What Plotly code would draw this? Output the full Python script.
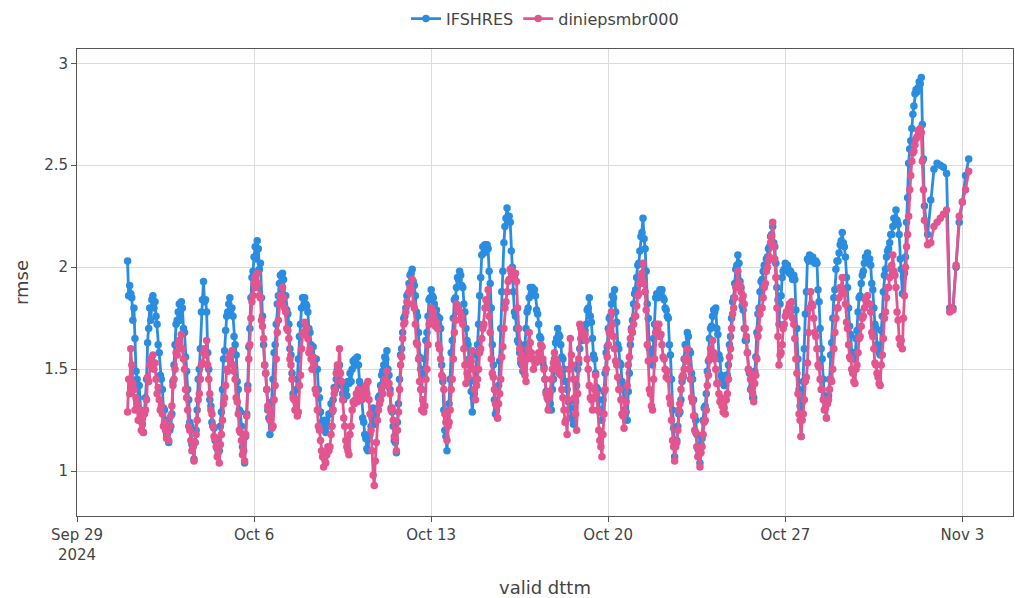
import pandas as pd
import plotly.graph_objects as go

# Hourly rmse, one row per day starting 2024-10-01 00 UTC (last row ends Nov 1 12 UTC)
first_day = pd.Timestamp("2024-10-01")

ifshres_hourly = [
    [2.03, 1.86, 1.91, 1.87, 1.85, 1.74, 1.80, 1.65, 1.49, 1.45, 1.36, 1.42, 1.30, 1.25, 1.26, 1.19, 1.29, 1.36, 1.45, 1.63, 1.70, 1.80, 1.74, 1.84],
    [1.86, 1.80, 1.83, 1.76, 1.72, 1.62, 1.58, 1.47, 1.45, 1.40, 1.31, 1.30, 1.25, 1.18, 1.21, 1.14, 1.20, 1.22, 1.28, 1.44, 1.52, 1.62, 1.72, 1.74],
    [1.78, 1.82, 1.74, 1.83, 1.80, 1.70, 1.68, 1.56, 1.49, 1.40, 1.35, 1.24, 1.22, 1.13, 1.12, 1.06, 1.14, 1.20, 1.30, 1.45, 1.50, 1.60, 1.78, 1.84],
    [1.93, 1.83, 1.84, 1.78, 1.58, 1.50, 1.35, 1.32, 1.24, 1.22, 1.21, 1.15, 1.16, 1.11, 1.15, 1.10, 1.22, 1.29, 1.40, 1.55, 1.59, 1.69, 1.76, 1.78],
    [1.82, 1.85, 1.77, 1.80, 1.76, 1.66, 1.62, 1.57, 1.44, 1.40, 1.30, 1.29, 1.22, 1.12, 1.10, 1.04, 1.17, 1.28, 1.42, 1.61, 1.70, 1.85, 1.95, 1.98],
    [2.05, 2.10, 2.04, 2.13, 2.09, 1.99, 2.02, 1.85, 1.76, 1.62, 1.52, 1.48, 1.40, 1.30, 1.26, 1.18, 1.29, 1.34, 1.45, 1.58, 1.62, 1.72, 1.82, 1.86],
    [1.92, 1.96, 1.89, 1.97, 1.94, 1.86, 1.86, 1.79, 1.77, 1.72, 1.60, 1.57, 1.48, 1.38, 1.36, 1.30, 1.40, 1.45, 1.55, 1.66, 1.72, 1.80, 1.85, 1.81],
    [1.85, 1.82, 1.81, 1.78, 1.70, 1.68, 1.62, 1.56, 1.61, 1.55, 1.50, 1.55, 1.50, 1.40, 1.36, 1.29, 1.24, 1.23, 1.21, 1.25, 1.19, 1.25, 1.22, 1.28],
    [1.28, 1.33, 1.29, 1.35, 1.41, 1.40, 1.45, 1.50, 1.51, 1.52, 1.43, 1.42, 1.38, 1.35, 1.43, 1.40, 1.37, 1.44, 1.43, 1.48, 1.44, 1.50, 1.54, 1.53],
    [1.55, 1.52, 1.56, 1.52, 1.44, 1.42, 1.35, 1.26, 1.24, 1.18, 1.16, 1.11, 1.10, 1.16, 1.18, 1.22, 1.26, 1.31, 1.28, 1.23, 1.28, 1.30, 1.36, 1.37],
    [1.42, 1.47, 1.49, 1.52, 1.56, 1.55, 1.59, 1.50, 1.47, 1.40, 1.31, 1.29, 1.22, 1.15, 1.14, 1.09, 1.24, 1.33, 1.45, 1.57, 1.60, 1.68, 1.75, 1.76],
    [1.80, 1.86, 1.87, 1.92, 1.96, 1.97, 1.99, 1.93, 1.91, 1.86, 1.78, 1.76, 1.68, 1.56, 1.50, 1.40, 1.47, 1.49, 1.55, 1.64, 1.68, 1.76, 1.84, 1.85],
    [1.89, 1.86, 1.85, 1.82, 1.78, 1.79, 1.76, 1.72, 1.75, 1.70, 1.52, 1.44, 1.30, 1.20, 1.17, 1.10, 1.24, 1.33, 1.45, 1.58, 1.64, 1.75, 1.84, 1.85],
    [1.90, 1.95, 1.94, 1.98, 1.96, 1.91, 1.90, 1.82, 1.78, 1.70, 1.64, 1.62, 1.55, 1.44, 1.39, 1.29, 1.36, 1.38, 1.45, 1.57, 1.62, 1.72, 1.86, 1.95],
    [2.06, 2.10, 2.07, 2.11, 2.09, 2.11, 2.09, 1.98, 1.92, 1.80, 1.62, 1.52, 1.35, 1.28, 1.30, 1.26, 1.42, 1.54, 1.70, 1.88, 1.98, 2.12, 2.20, 2.24],
    [2.29, 2.25, 2.25, 2.22, 2.08, 2.00, 1.88, 1.78, 1.76, 1.70, 1.64, 1.63, 1.58, 1.53, 1.52, 1.49, 1.58, 1.62, 1.70, 1.78, 1.80, 1.85, 1.90, 1.87],
    [1.90, 1.87, 1.89, 1.86, 1.79, 1.77, 1.72, 1.66, 1.65, 1.61, 1.53, 1.51, 1.45, 1.39, 1.39, 1.35, 1.31, 1.33, 1.30, 1.40, 1.45, 1.55, 1.63, 1.65],
    [1.70, 1.67, 1.66, 1.62, 1.56, 1.55, 1.50, 1.44, 1.44, 1.40, 1.34, 1.34, 1.31, 1.26, 1.26, 1.23, 1.31, 1.34, 1.42, 1.50, 1.53, 1.60, 1.65, 1.64],
    [1.68, 1.71, 1.69, 1.72, 1.79, 1.80, 1.85, 1.76, 1.73, 1.65, 1.57, 1.55, 1.48, 1.41, 1.40, 1.35, 1.29, 1.30, 1.25, 1.35, 1.39, 1.48, 1.58, 1.61],
    [1.70, 1.75, 1.76, 1.82, 1.86, 1.85, 1.89, 1.78, 1.73, 1.62, 1.60, 1.53, 1.52, 1.44, 1.41, 1.35, 1.30, 1.29, 1.25, 1.39, 1.48, 1.62, 1.70, 1.74],
    [1.82, 1.87, 1.89, 1.95, 2.01, 2.02, 2.08, 2.15, 2.17, 2.24, 2.14, 2.09, 1.98, 1.82, 1.75, 1.60, 1.58, 1.53, 1.52, 1.65, 1.72, 1.85, 1.87, 1.85],
    [1.87, 1.89, 1.87, 1.89, 1.85, 1.84, 1.80, 1.79, 1.76, 1.75, 1.62, 1.57, 1.45, 1.30, 1.21, 1.07, 1.14, 1.15, 1.22, 1.28, 1.29, 1.35, 1.44, 1.46],
    [1.55, 1.62, 1.62, 1.68, 1.66, 1.59, 1.58, 1.48, 1.45, 1.35, 1.27, 1.25, 1.18, 1.11, 1.10, 1.04, 1.13, 1.16, 1.25, 1.31, 1.32, 1.38, 1.49, 1.54],
    [1.65, 1.70, 1.71, 1.76, 1.79, 1.78, 1.80, 1.70, 1.67, 1.57, 1.55, 1.47, 1.45, 1.46, 1.42, 1.42, 1.47, 1.47, 1.52, 1.62, 1.66, 1.75, 1.83, 1.85],
    [1.92, 1.99, 2.01, 2.06, 2.02, 1.93, 1.90, 1.81, 1.79, 1.70, 1.64, 1.64, 1.58, 1.50, 1.48, 1.40, 1.41, 1.36, 1.36, 1.49, 1.56, 1.68, 1.77, 1.80],
    [1.88, 1.93, 1.94, 1.98, 2.01, 2.01, 2.04, 2.05, 2.09, 2.10, 2.15, 2.16, 2.20, 2.12, 2.10, 2.02, 1.90, 1.84, 1.72, 1.82, 1.86, 1.95, 1.98, 1.99],
    [2.02, 2.00, 2.01, 1.99, 1.97, 1.98, 1.96, 1.94, 1.96, 1.94, 1.79, 1.70, 1.55, 1.40, 1.32, 1.17, 1.34, 1.44, 1.60, 1.77, 1.88, 2.04, 2.03, 2.06],
    [2.05, 2.03, 2.05, 2.03, 2.02, 2.03, 2.02, 1.89, 1.83, 1.70, 1.60, 1.55, 1.45, 1.37, 1.34, 1.26, 1.34, 1.37, 1.45, 1.57, 1.63, 1.75, 1.85, 1.89],
    [1.99, 2.03, 2.03, 2.07, 2.11, 2.13, 2.17, 2.12, 2.10, 2.05, 1.95, 1.90, 1.80, 1.71, 1.67, 1.58, 1.58, 1.55, 1.55, 1.65, 1.69, 1.78, 1.85, 1.86],
    [1.92, 1.96, 1.98, 2.02, 2.05, 2.05, 2.07, 2.04, 2.04, 2.01, 1.92, 1.89, 1.80, 1.72, 1.70, 1.62, 1.61, 1.58, 1.57, 1.69, 1.76, 1.88, 1.96, 1.99],
    [2.05, 2.08, 2.09, 2.12, 2.16, 2.16, 2.20, 2.24, 2.24, 2.28, 2.23, 2.21, 2.16, 2.04, 1.99, 1.87, 1.95, 1.97, 2.05, 2.22, 2.34, 2.51, 2.58, 2.62],
    [2.68, 2.75, 2.79, 2.85, 2.87, 2.86, 2.88, 2.91, 2.90, 2.93, 2.70, 2.53, 2.30],
]

diniepsmbr000_hourly = [
    [1.29, 1.45, 1.38, 1.60, 1.52, 1.43, 1.40, 1.30, 1.36, 1.33, 1.25, 1.30, 1.25, 1.20, 1.23, 1.19, 1.28, 1.30, 1.35, 1.46, 1.44, 1.52, 1.55, 1.54],
    [1.57, 1.50, 1.53, 1.45, 1.38, 1.41, 1.35, 1.30, 1.32, 1.28, 1.22, 1.24, 1.20, 1.16, 1.19, 1.15, 1.22, 1.27, 1.32, 1.42, 1.45, 1.50, 1.58, 1.57],
    [1.62, 1.64, 1.60, 1.67, 1.60, 1.55, 1.50, 1.40, 1.36, 1.30, 1.22, 1.20, 1.15, 1.10, 1.12, 1.05, 1.14, 1.18, 1.25, 1.35, 1.38, 1.45, 1.52, 1.53],
    [1.58, 1.60, 1.57, 1.64, 1.52, 1.45, 1.38, 1.30, 1.28, 1.22, 1.17, 1.16, 1.12, 1.07, 1.09, 1.04, 1.13, 1.18, 1.25, 1.33, 1.36, 1.42, 1.50, 1.49],
    [1.55, 1.57, 1.53, 1.59, 1.52, 1.49, 1.45, 1.36, 1.34, 1.28, 1.20, 1.19, 1.15, 1.08, 1.10, 1.05, 1.18, 1.27, 1.40, 1.55, 1.62, 1.75, 1.83, 1.86],
    [1.92, 1.95, 1.90, 1.97, 1.92, 1.86, 1.85, 1.74, 1.71, 1.65, 1.52, 1.48, 1.40, 1.32, 1.30, 1.25, 1.27, 1.21, 1.22, 1.35, 1.42, 1.55, 1.68, 1.74],
    [1.82, 1.86, 1.84, 1.90, 1.85, 1.80, 1.78, 1.70, 1.69, 1.65, 1.55, 1.52, 1.45, 1.36, 1.35, 1.30, 1.33, 1.27, 1.29, 1.42, 1.47, 1.60, 1.67, 1.68],
    [1.73, 1.69, 1.70, 1.65, 1.58, 1.60, 1.55, 1.50, 1.56, 1.52, 1.40, 1.38, 1.30, 1.22, 1.20, 1.15, 1.10, 1.07, 1.02, 1.06, 1.04, 1.08, 1.12, 1.10],
    [1.12, 1.18, 1.22, 1.30, 1.38, 1.40, 1.48, 1.52, 1.50, 1.60, 1.48, 1.44, 1.35, 1.26, 1.22, 1.15, 1.12, 1.10, 1.08, 1.18, 1.22, 1.30, 1.34, 1.33],
    [1.35, 1.38, 1.34, 1.40, 1.36, 1.38, 1.35, 1.39, 1.36, 1.40, 1.42, 1.38, 1.44, 1.35, 1.28, 1.20, 1.10, 0.98, 0.93, 1.05, 1.14, 1.25, 1.30, 1.33],
    [1.35, 1.40, 1.38, 1.42, 1.45, 1.44, 1.49, 1.42, 1.43, 1.38, 1.30, 1.31, 1.25, 1.17, 1.16, 1.10, 1.20, 1.29, 1.40, 1.52, 1.56, 1.65, 1.72, 1.73],
    [1.78, 1.83, 1.82, 1.88, 1.90, 1.89, 1.94, 1.82, 1.80, 1.72, 1.63, 1.62, 1.55, 1.44, 1.40, 1.30, 1.35, 1.29, 1.32, 1.45, 1.50, 1.62, 1.72, 1.74],
    [1.80, 1.77, 1.78, 1.75, 1.71, 1.73, 1.70, 1.62, 1.60, 1.55, 1.47, 1.46, 1.40, 1.28, 1.24, 1.15, 1.22, 1.24, 1.30, 1.40, 1.45, 1.55, 1.68, 1.74],
    [1.82, 1.79, 1.80, 1.78, 1.74, 1.76, 1.72, 1.60, 1.52, 1.43, 1.48, 1.46, 1.52, 1.55, 1.54, 1.59, 1.50, 1.40, 1.35, 1.42, 1.45, 1.50, 1.58, 1.60],
    [1.65, 1.70, 1.72, 1.80, 1.84, 1.83, 1.89, 1.76, 1.68, 1.55, 1.48, 1.46, 1.40, 1.33, 1.32, 1.26, 1.33, 1.38, 1.45, 1.56, 1.61, 1.70, 1.80, 1.83],
    [1.88, 1.93, 1.94, 1.99, 1.97, 1.98, 1.96, 1.95, 1.97, 1.93, 1.80, 1.70, 1.60, 1.55, 1.57, 1.52, 1.50, 1.47, 1.44, 1.55, 1.60, 1.68, 1.63, 1.58],
    [1.55, 1.50, 1.55, 1.53, 1.55, 1.54, 1.58, 1.57, 1.62, 1.61, 1.55, 1.50, 1.45, 1.38, 1.36, 1.30, 1.36, 1.39, 1.45, 1.50, 1.53, 1.58, 1.55, 1.54],
    [1.52, 1.48, 1.50, 1.47, 1.40, 1.36, 1.30, 1.24, 1.25, 1.18, 1.35, 1.50, 1.65, 1.57, 1.52, 1.45, 1.36, 1.28, 1.20, 1.38, 1.55, 1.72, 1.70, 1.69],
    [1.68, 1.66, 1.67, 1.64, 1.55, 1.50, 1.42, 1.36, 1.35, 1.30, 1.36, 1.40, 1.47, 1.38, 1.30, 1.20, 1.15, 1.12, 1.07, 1.18, 1.28, 1.40, 1.50, 1.56],
    [1.62, 1.68, 1.70, 1.78, 1.72, 1.66, 1.60, 1.54, 1.52, 1.46, 1.40, 1.40, 1.35, 1.28, 1.27, 1.21, 1.29, 1.34, 1.42, 1.52, 1.56, 1.65, 1.69, 1.68],
    [1.72, 1.76, 1.76, 1.81, 1.86, 1.87, 1.92, 1.95, 1.97, 2.02, 1.92, 1.88, 1.79, 1.62, 1.54, 1.40, 1.38, 1.32, 1.30, 1.45, 1.55, 1.68, 1.72, 1.69],
    [1.72, 1.66, 1.67, 1.62, 1.56, 1.55, 1.50, 1.46, 1.49, 1.45, 1.36, 1.33, 1.25, 1.15, 1.12, 1.05, 1.12, 1.14, 1.20, 1.30, 1.33, 1.40, 1.46, 1.47],
    [1.50, 1.55, 1.54, 1.60, 1.54, 1.50, 1.45, 1.36, 1.34, 1.27, 1.20, 1.19, 1.12, 1.07, 1.08, 1.02, 1.09, 1.12, 1.18, 1.24, 1.25, 1.30, 1.42, 1.47],
    [1.55, 1.60, 1.58, 1.64, 1.58, 1.55, 1.50, 1.43, 1.43, 1.38, 1.34, 1.36, 1.32, 1.29, 1.31, 1.28, 1.35, 1.38, 1.45, 1.56, 1.60, 1.70, 1.77, 1.80],
    [1.85, 1.90, 1.91, 1.98, 1.92, 1.91, 1.88, 1.84, 1.86, 1.82, 1.70, 1.66, 1.58, 1.50, 1.49, 1.45, 1.40, 1.38, 1.34, 1.43, 1.47, 1.55, 1.66, 1.70],
    [1.77, 1.80, 1.80, 1.85, 1.90, 1.92, 1.98, 2.00, 2.03, 2.05, 2.12, 2.15, 2.22, 2.10, 2.04, 1.95, 1.80, 1.66, 1.52, 1.57, 1.58, 1.62, 1.70, 1.72],
    [1.76, 1.78, 1.77, 1.80, 1.82, 1.80, 1.83, 1.75, 1.72, 1.65, 1.55, 1.48, 1.38, 1.28, 1.25, 1.17, 1.25, 1.28, 1.35, 1.44, 1.46, 1.53, 1.68, 1.80],
    [1.88, 1.82, 1.81, 1.75, 1.68, 1.66, 1.60, 1.52, 1.51, 1.45, 1.40, 1.40, 1.35, 1.30, 1.31, 1.26, 1.33, 1.35, 1.40, 1.45, 1.44, 1.50, 1.60, 1.68],
    [1.75, 1.80, 1.80, 1.85, 1.90, 1.90, 1.95, 1.88, 1.87, 1.82, 1.73, 1.70, 1.62, 1.56, 1.55, 1.50, 1.48, 1.44, 1.43, 1.50, 1.52, 1.58, 1.65, 1.66],
    [1.71, 1.75, 1.76, 1.80, 1.84, 1.82, 1.86, 1.82, 1.82, 1.78, 1.68, 1.66, 1.60, 1.53, 1.52, 1.48, 1.46, 1.43, 1.42, 1.52, 1.57, 1.65, 1.75, 1.78],
    [1.85, 1.90, 1.90, 1.95, 2.00, 2.01, 2.06, 1.98, 1.96, 1.90, 1.78, 1.74, 1.65, 1.62, 1.64, 1.60, 1.75, 1.86, 2.00, 2.10, 2.16, 2.25, 2.38, 2.45],
    [2.52, 2.56, 2.57, 2.60, 2.63, 2.64, 2.67, 2.66, 2.68, 2.66, 2.52, 2.38, 2.23],
]

# 3-hourly values from 2024-11-01 15 UTC to 2024-11-03 06 UTC
tail_start = pd.Timestamp("2024-11-01 15:00")
ifshres_tail = [2.16, 2.33, 2.48, 2.51, 2.50, 2.49, 2.46, 1.80, 1.80, 2.00, 2.22, 2.32, 2.45, 2.53]
diniepsmbr000_tail = [2.11, 2.12, 2.20, 2.22, 2.24, 2.26, 2.28, 1.78, 1.79, 2.01, 2.25, 2.32, 2.38, 2.47]


def build_series(hourly_rows, tail):
    times, values = [], []
    for d, row in enumerate(hourly_rows):
        day = first_day + pd.Timedelta(days=d)
        for h, v in enumerate(row):
            times.append(day + pd.Timedelta(hours=h))
            values.append(v)
    for k, v in enumerate(tail):
        times.append(tail_start + pd.Timedelta(hours=3 * k))
        values.append(v)
    return times, values


series = [
    ("IFSHRES", ifshres_hourly, ifshres_tail, "#2a8de0"),
    ("diniepsmbr000", diniepsmbr000_hourly, diniepsmbr000_tail, "#e2558f"),
]

font_family = "DejaVu Sans, Verdana, sans-serif"

fig = go.Figure()
for name, rows, tail, color in series:
    x, y = build_series(rows, tail)
    fig.add_trace(go.Scatter(
        x=x, y=y, name=name, mode="lines+markers",
        line=dict(color=color, width=2.8),
        marker=dict(color=color, size=7.5),
    ))

axis_common = dict(
    showgrid=True, gridcolor="#dcdcdc", gridwidth=1,
    showline=True, linecolor="#555", linewidth=1, mirror=True,
    ticks="outside", ticklen=5, tickcolor="#555",
    tickfont=dict(size=15, color="#444"),
    zeroline=False,
)

fig.update_layout(
    width=1015, height=598,
    margin=dict(l=77, r=2, t=45, b=82),
    paper_bgcolor="white", plot_bgcolor="white",
    font=dict(family=font_family, color="#444"),
    showlegend=True,
    legend=dict(
        orientation="h", x=0.5, xanchor="center", y=1.065, yanchor="middle",
        font=dict(size=16, color="#444"), bgcolor="rgba(0,0,0,0)",
    ),
    xaxis=dict(
        **axis_common,
        range=["2024-09-29", "2024-11-05"],
        tick0="2024-09-29", dtick=7 * 86400000,
        title=dict(text="valid dttm", font=dict(size=18, color="#444"), standoff=18),
    ),
    yaxis=dict(
        **axis_common,
        range=[0.78, 3.07],
        tickvals=[1, 1.5, 2, 2.5, 3],
        title=dict(text="rmse", font=dict(size=18, color="#444"), standoff=10),
    ),
)

fig.write_html("out.html")
